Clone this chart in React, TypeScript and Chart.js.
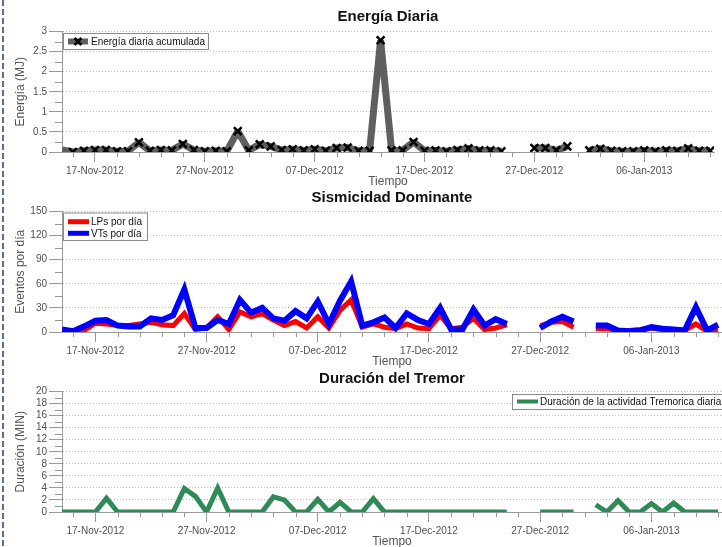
import React, { useEffect, useRef } from 'react';
import { Chart, registerables } from 'chart.js';

Chart.register(...registerables);

const FONT = '"Liberation Sans", Arial, Helvetica, sans-serif';

// Day offsets from 14-Nov-2012 (x axis positions)
const tickDays = [3, 13, 23, 33, 43, 53];
const tickLabels = ['17-Nov-2012', '27-Nov-2012', '07-Dec-2012', '17-Dec-2012', '27-Dec-2012', '06-Jan-2013'];
const minorDays = [1, 5, 7, 9, 11, 15, 17, 19, 21, 25, 27, 29, 31, 35, 37, 39, 41, 45, 47, 49, 51, 55, 57, 59];

// Panel 1: Energía diaria acumulada (MJ), one value per day
const energy = [
  0.05, 0.0, 0.03, 0.05, 0.05, 0.02, 0.02, 0.24, 0.03, 0.05,
  0.04, 0.2, 0.05, 0.02, 0.03, 0.02, 0.52, 0.04, 0.19, 0.14,
  0.05, 0.07, 0.04, 0.07, 0.03, 0.1, 0.11, 0.03, 0.03, 2.78,
  0.04, 0.04, 0.25, 0.03, 0.04, 0.02, 0.05, 0.09, 0.04, 0.04,
  0.02, null, null, 0.1, 0.1, 0.04, 0.14, null, 0.04, 0.08,
  0.03, 0.02, 0.02, 0.04, 0.02, 0.04, 0.03, 0.09, 0.03, 0.03,
];

// Panel 2: events per day
const lps = [
  2, 0, 2, 11, 10, 8, 8, 10, 12, 9,
  8, 23, 3, 5, 19, 3, 25, 19, 23, 15,
  8, 13, 5, 19, 5, 27, 40, 6, 10, 6,
  4, 10, 5, 4, 21, 4, 6, 17, 3, 5,
  9, null, null, 8, 12, 13, 6, null, 4, 4,
  2, 2, 3, 5, 3, 3, 2, 10, 1, 2,
];
const vts = [
  3, 1, 7, 14, 15, 8, 7, 7, 17, 15,
  21, 53, 5, 5, 15, 10, 40, 24, 30, 17,
  14, 26, 17, 38, 10, 39, 63, 8, 12, 18,
  5, 23, 15, 10, 30, 3, 3, 28, 8, 16,
  10, null, null, 5, 13, 19, 13, null, 8, 8,
  2, 1, 2, 6, 4, 3, 2, 31, 2, 9,
];

// Panel 3: tremor duration (MIN)
const duration = [
  0, 0, 0, 0, 2.3, 0, 0, 0, 0, 0,
  0, 3.9, 2.6, 0, 4.0, 0, 0, 0, 0, 2.5,
  2.0, 0, 0, 2.1, 0, 1.6, 0, 0, 2.2, 0,
  0, 0, 0, 0, 0, 0, 0, 0, 0, 0,
  0, null, null, 0, 0, 0, 0, null, 1.2, 0,
  1.9, 0, 0, 1.4, 0, 1.5, 0, 0, 0, 0,
];

const yTicks1 = [0, 0.5, 1, 1.5, 2, 2.5, 3];
const yMinor1 = [0.25, 0.75, 1.25, 1.75, 2.25, 2.75];
const yTicks2 = [0, 30, 60, 90, 120, 150];
const yMinor2 = [15, 45, 75, 105, 135];
const yTicks3 = [0, 2, 4, 6, 8, 10, 12, 14, 16, 18, 20];
const yMinor3 = [1, 3, 5, 7, 9, 11, 13, 15, 17, 19];

const GRAY_LINE = '#5f5f5f';
const RED = '#ff0000';
const BLUE = '#0000ff';
const GREEN = '#2e8b57';

type LegendItem = { label: string; color: string; lw: number; y: number; marker?: boolean };
type LegendBox = { x: number; y: number; w: number; h: number; sx0: number; sx1: number; tx: number; items: LegendItem[] };

const toPts = (arr: (number | null)[]) => arr.map((v, i) => ({ x: i, y: v }));

function decoPlugin(title: string, titleY: number, legend: LegendBox, yMinor: number[]) {
  return {
    id: 'deco',
    afterDraw(chart: any) {
      const ctx: CanvasRenderingContext2D = chart.ctx;
      const { left, right, bottom } = chart.chartArea;
      const xs = chart.scales.x;
      const ys = chart.scales.y;
      ctx.save();
      // minor ticks
      ctx.strokeStyle = '#999';
      ctx.lineWidth = 1;
      ctx.beginPath();
      for (const v of yMinor) {
        const py = Math.round(ys.getPixelForValue(v)) + 0.5;
        ctx.moveTo(left - 7, py);
        ctx.lineTo(left, py);
      }
      for (const v of minorDays) {
        const px = Math.round(xs.getPixelForValue(v)) + 0.5;
        ctx.moveTo(px, bottom);
        ctx.lineTo(px, bottom + 5);
      }
      ctx.stroke();
      // title
      ctx.fillStyle = '#111';
      ctx.font = `bold 15px ${FONT}`;
      ctx.textAlign = 'center';
      ctx.textBaseline = 'middle';
      ctx.fillText(title, (left + right) / 2, titleY);
      // legend
      ctx.fillStyle = '#fff';
      ctx.fillRect(legend.x, legend.y, legend.w, legend.h);
      ctx.strokeStyle = '#8a8a8a';
      ctx.lineWidth = 1;
      ctx.strokeRect(legend.x + 0.5, legend.y + 0.5, legend.w, legend.h);
      ctx.font = `10px ${FONT}`;
      ctx.textAlign = 'left';
      for (const it of legend.items) {
        ctx.strokeStyle = it.color;
        ctx.lineWidth = it.lw;
        ctx.beginPath();
        ctx.moveTo(legend.sx0, it.y);
        ctx.lineTo(legend.sx1, it.y);
        ctx.stroke();
        if (it.marker) {
          const cx = (legend.sx0 + legend.sx1) / 2;
          ctx.strokeStyle = '#000';
          ctx.lineWidth = 2.5;
          ctx.beginPath();
          ctx.moveTo(cx - 3.5, it.y - 3.5);
          ctx.lineTo(cx + 3.5, it.y + 3.5);
          ctx.moveTo(cx + 3.5, it.y - 3.5);
          ctx.lineTo(cx - 3.5, it.y + 3.5);
          ctx.stroke();
        }
        ctx.fillStyle = '#111';
        ctx.fillText(it.label, legend.tx, it.y + 0.5);
      }
      ctx.restore();
    },
  };
}

function makeOptions(yMax: number, yTicks: number[], yTitle: string, yLabel: (v: number) => string) {
  return {
    animation: false as const,
    responsive: true,
    maintainAspectRatio: false,
    layout: { padding: { top: 31.5, left: 0, right: 0, bottom: 0 } },
    plugins: {
      legend: { display: false },
      title: { display: false },
      tooltip: { enabled: false },
    },
    scales: {
      x: {
        type: 'linear' as const,
        min: 0,
        max: 59.35,
        afterBuildTicks: (s: any) => {
          s.ticks = tickDays.map((v) => ({ value: v }));
        },
        afterFit: (s: any) => {
          s.height = 38;
        },
        ticks: {
          autoSkip: false,
          maxRotation: 0,
          padding: 3,
          color: '#505050',
          font: { size: 10, family: FONT },
          callback: (v: any) => {
            const k = tickDays.indexOf(Number(v));
            return k >= 0 ? tickLabels[k] : '';
          },
        },
        grid: { drawOnChartArea: false, drawTicks: true, tickLength: 10, tickColor: '#999' },
        border: { display: true, color: '#999' },
        title: {
          display: true,
          text: 'Tiempo',
          color: '#555',
          font: { size: 12, family: FONT },
          padding: { top: 0, bottom: 1 },
        },
      },
      y: {
        type: 'linear' as const,
        min: 0,
        max: yMax,
        afterBuildTicks: (s: any) => {
          s.ticks = yTicks.map((v) => ({ value: v }));
        },
        afterFit: (s: any) => {
          s.width = 62;
        },
        ticks: {
          autoSkip: false,
          padding: 2,
          color: '#505050',
          font: { size: 10, family: FONT },
          callback: (v: any) => yLabel(Number(v)),
        },
        grid: { color: '#bdbdbd', tickColor: '#999', tickLength: 13, drawOnChartArea: true },
        border: { display: true, color: '#999', dash: [1, 2] },
        title: {
          display: true,
          text: yTitle,
          color: '#555',
          font: { size: 12, family: FONT },
          padding: { top: 13, bottom: 0 },
        },
      },
    },
  };
}

export default function App() {
  const r1 = useRef<HTMLCanvasElement>(null);
  const r2 = useRef<HTMLCanvasElement>(null);
  const r3 = useRef<HTMLCanvasElement>(null);

  useEffect(() => {
    const c1 = new Chart(r1.current as HTMLCanvasElement, {
      type: 'line',
      data: {
        datasets: [
          {
            label: 'Energía diaria acumulada',
            data: toPts(energy) as any,
            borderColor: GRAY_LINE,
            borderWidth: 7,
            borderJoinStyle: 'bevel',
            pointStyle: 'crossRot',
            pointRadius: energy.map((_, i) => (i === 0 ? 0 : 5.5)),
            pointBorderColor: '#000',
            pointBackgroundColor: '#000',
            pointBorderWidth: 2.5,
            spanGaps: false,
            tension: 0,
          },
        ],
      },
      options: makeOptions(3, yTicks1, 'Energía (MJ)', (v) => String(v)) as any,
      plugins: [
        decoPlugin('Energía Diaria', 17, {
          x: 63, y: 33, w: 145, h: 16, sx0: 68, sx1: 88, tx: 91,
          items: [{ label: 'Energía diaria acumulada', color: GRAY_LINE, lw: 6, y: 41.5, marker: true }],
        }, yMinor1),
      ],
    });

    const c2 = new Chart(r2.current as HTMLCanvasElement, {
      type: 'line',
      data: {
        datasets: [
          {
            label: 'VTs por día',
            data: toPts(vts) as any,
            borderColor: BLUE,
            borderWidth: 6,
            pointRadius: 0,
            spanGaps: false,
            tension: 0,
          },
          {
            label: 'LPs por día',
            data: toPts(lps) as any,
            borderColor: RED,
            borderWidth: 5,
            pointRadius: 0,
            spanGaps: false,
            tension: 0,
          },
        ],
      },
      options: makeOptions(150, yTicks2, 'Eventos por día', (v) => String(v)) as any,
      plugins: [
        decoPlugin('Sismicidad Dominante', 18, {
          x: 63, y: 32.5, w: 84, h: 27.5, sx0: 68, sx1: 89, tx: 91,
          items: [
            { label: 'LPs por día', color: RED, lw: 5, y: 41.7 },
            { label: 'VTs por día', color: BLUE, lw: 5, y: 53.3 },
          ],
        }, yMinor2),
      ],
    });

    const c3 = new Chart(r3.current as HTMLCanvasElement, {
      type: 'line',
      data: {
        datasets: [
          {
            label: 'Duración de la actividad Tremorica diaria',
            data: toPts(duration) as any,
            borderColor: GREEN,
            borderWidth: 5,
            pointRadius: 0,
            spanGaps: false,
            tension: 0,
          },
        ],
      },
      options: makeOptions(20, yTicks3, 'Duración (MIN)', (v) => String(v)) as any,
      plugins: [
        decoPlugin('Duración del Tremor', 19, {
          x: 512, y: 34, w: 215, h: 15, sx0: 517, sx1: 538, tx: 540,
          items: [{ label: 'Duración de la actividad Tremorica diaria', color: GREEN, lw: 4, y: 41.5 }],
        }, yMinor3),
      ],
    });

    return () => {
      c1.destroy();
      c2.destroy();
      c3.destroy();
    };
  }, []);

  const refs = [r1, r2, r3];
  return (
    <div style={{ position: 'absolute', left: 0, top: 0, width: 722, height: 547, overflow: 'hidden', background: '#fff' }}>
      <div
        style={{
          position: 'absolute',
          left: 2,
          top: 0,
          width: 2,
          height: 547,
          background: 'repeating-linear-gradient(to bottom, #5b6f96 0px, #5b6f96 6px, transparent 6px, transparent 9px)',
        }}
      />
      {refs.map((r, i) => (
        <div key={i} style={{ position: 'absolute', left: 0, top: i * 180, width: 722, height: 190 }}>
          <canvas ref={r} />
        </div>
      ))}
    </div>
  );
}
